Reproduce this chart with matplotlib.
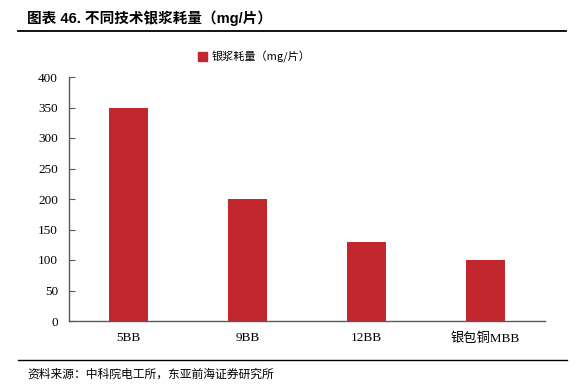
import numpy as np
import matplotlib
matplotlib.use("Agg")
from matplotlib import pyplot as plt
from matplotlib.lines import Line2D
from matplotlib.patches import Patch

categories = ['5BB', '9BB', '12BB', '银包铜MBB']
values = [350, 200, 130, 100]
series_name = '银浆耗量（mg/片）'
title = '图表 46. 不同技术银浆耗量（mg/片）'
source = '资料来源：中科院电工所，东亚前海证券研究所'

plt.rcParams['font.family'] = ['Liberation Serif', 'Noto Sans CJK SC']
bar_color = '#c1272d'
axis_color = '#595959'

fig = plt.figure(figsize=(5.83, 3.89), dpi=100)
ax = fig.add_axes([69/583, 1-321/389, 476/583, 244/389])

x = np.arange(len(categories))
ax.bar(x, values, width=0.33, color=bar_color, zorder=2)
ax.set_xlim(-0.5, 3.5)
ax.set_ylim(0, 400)
ax.set_yticks(np.arange(0, 401, 50))
ax.set_xticks(x)
ax.set_xticklabels(categories, fontsize=9.5)
ax.tick_params(axis='x', length=0, pad=8)
ax.tick_params(axis='y', direction='in', length=4, color=axis_color, labelsize=9.5, pad=8)
for s in ['top', 'right']:
    ax.spines[s].set_visible(False)
for s in ['left', 'bottom']:
    ax.spines[s].set_color(axis_color)
    ax.spines[s].set_linewidth(1.0)

# legend
handles = [Patch(color=bar_color, label=series_name)]
fig.legend(handles=handles, loc='center', bbox_to_anchor=(254/583, 1-57/389),
           frameon=False, handlelength=0.8, handleheight=0.8,
           handletextpad=0.4, prop={'family': ['Noto Sans CJK SC'], 'size': 8})

# title and separators
fig.text(27/583, 1-18/389, title, fontsize=10.5, fontweight='bold',
         va='center', ha='left', family=['Liberation Sans', 'Noto Sans CJK SC'])
fig.add_artist(Line2D([18/583, 566/583], [1-31/389, 1-31/389], color='black', lw=1.3))
fig.add_artist(Line2D([18/583, 567/583], [1-360/389, 1-360/389], color='black', lw=1.0))
fig.text(27/583, 1-374/389, source, fontsize=8.5, va='center', ha='left',
         family=['Noto Sans CJK SC'])

fig.savefig('out.png', dpi=100)
